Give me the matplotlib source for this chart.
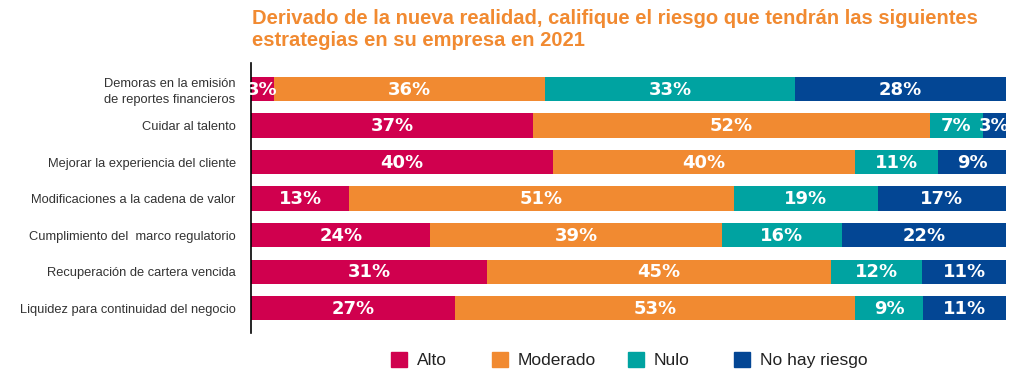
import numpy as np
import matplotlib.pyplot as plt
from matplotlib.patches import Patch

categorias = ["Demoras en la emisión\nde reportes financieros",
              "Cuidar al talento",
              "Mejorar la experiencia del cliente",
              "Modificaciones a la cadena de valor",
              "Cumplimiento del  marco regulatorio",
              "Recuperación de cartera vencida",
              "Liquidez para continuidad del negocio"]
alto = [3, 37, 40, 13, 24, 31, 27]
moderado = [36, 52, 40, 51, 39, 45, 53]
nulo = [33, 7, 11, 19, 16, 12, 9]
no_riesgo = [28, 3, 9, 17, 22, 11, 11]

series = ["Alto", "Moderado", "Nulo", "No hay riesgo"]
colores = ["#D0004E", "#F18A31", "#00A3A1", "#034694"]

datos = np.array([alto, moderado, nulo, no_riesgo], dtype=float)
# the bars fill the whole row even when the rounded labels don't add to 100
anchos = datos / datos.sum(axis=0) * 100

fig = plt.figure(figsize=(10.28, 3.86), dpi=100)
ax = fig.add_axes([251/1028, 1 - 333/386, 755/1028, 270/386])

y = np.arange(len(categorias))
izq = np.zeros(len(categorias))
for i in range(4):
    ax.barh(y, anchos[i], left=izq, height=0.66, color=colores[i], label=series[i])
    for j in range(len(categorias)):
        ax.text(izq[j] + anchos[i][j] / 2, y[j] + 0.02, f"{int(datos[i][j])}%",
                ha="center", va="center", color="white", fontsize=13,
                fontweight="bold", family="DejaVu Sans")
    izq += anchos[i]

ax.set_xlim(0, 100)
ax.set_ylim(6.68, -0.71)
ax.set_yticks(y)
ax.set_yticklabels(categorias, fontsize=9.3, color="#333333", multialignment="center",
                   family="Liberation Sans", linespacing=1.35)
ax.tick_params(axis="y", length=0, pad=11)
ax.set_xticks([])
for s in ["top", "right", "bottom"]:
    ax.spines[s].set_visible(False)
ax.spines["left"].set_linewidth(1.2)

fig.text(252/1028, 1 - 9/386,
         "Derivado de la nueva realidad, califique el riesgo que tendrán las siguientes\nestrategias en su empresa en 2021",
         ha="left", va="top", color="#F18A31", fontsize=14.5, fontweight="bold",
         family="Liberation Sans", linespacing=1.2)

# each legend entry placed on its own, spacing in the original is uneven
pos_x = [391, 492, 628, 734]
for c, s, px in zip(colores, series, pos_x):
    leg = fig.legend(handles=[Patch(color=c, label=s)], loc="center left",
                     bbox_to_anchor=(px/1028, 1 - 360/386), frameon=False,
                     handlelength=0.95, handleheight=0.95,
                     handletextpad=0.55, borderpad=0, borderaxespad=0,
                     prop={"family": "Liberation Sans", "size": 12.5})
    for t in leg.get_texts():
        t.set_color("#222222")

fig.savefig("out.png", dpi=100)
